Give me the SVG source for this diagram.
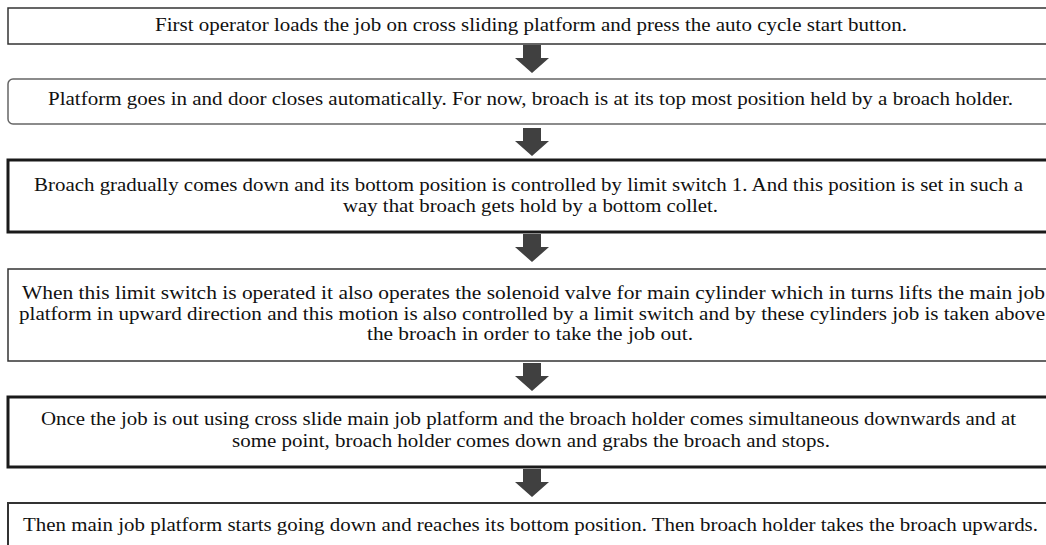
<svg xmlns="http://www.w3.org/2000/svg" width="1046" height="545" viewBox="0 0 1046 545">
<defs>
<style>
.box{fill:#fff;stroke:#333;stroke-width:1.5}
.thick{stroke:#1a1a1a;stroke-width:3}
.rnd{stroke:#666;stroke-width:1.5}
.t{font-size:19px;fill:#111}
.arr{fill:#404040}
</style>
<path id="ar" d="M-9,0 H9 V13 H17 L0,28 L-17,13 H-9 Z"/>
</defs>
<rect width="1046" height="545" fill="#fff"/>
<g id="n1" font-family="Liberation Serif, Times New Roman, serif">
<rect class="box" x="8" y="8" width="1060" height="36"/>
<text class="t" x="155" y="31" textLength="752" lengthAdjust="spacingAndGlyphs">First operator loads the job on cross sliding platform and press the auto cycle start button.</text>
</g>
<g id="n2" font-family="Liberation Serif, Times New Roman, serif">
<rect class="box rnd" x="8" y="79" width="1060" height="45" rx="5"/>
<text class="t" x="48" y="105" textLength="965" lengthAdjust="spacingAndGlyphs">Platform goes in and door closes automatically. For now, broach is at its top most position held by a broach holder.</text>
</g>
<g id="n3" font-family="Liberation Serif, Times New Roman, serif">
<rect class="box thick" x="8" y="160" width="1060" height="72"/>
<text class="t" x="34" y="191" textLength="989" lengthAdjust="spacingAndGlyphs">Broach gradually comes down and its bottom position is controlled by limit switch 1. And this position is set in such a</text>
<text class="t" x="343" y="212" textLength="375" lengthAdjust="spacingAndGlyphs">way that broach gets hold by a bottom collet.</text>
</g>
<g id="n4" font-family="Liberation Serif, Times New Roman, serif">
<rect class="box" x="8" y="269" width="1060" height="92"/>
<text class="t" x="22" y="299" textLength="1023" lengthAdjust="spacingAndGlyphs">When this limit switch is operated it also operates the solenoid valve for main cylinder which in turns lifts the main job</text>
<text class="t" x="19" y="320" textLength="1026" lengthAdjust="spacingAndGlyphs">platform in upward direction and this motion is also controlled by a limit switch and by these cylinders job is taken above</text>
<text class="t" x="367" y="340" textLength="326" lengthAdjust="spacingAndGlyphs">the broach in order to take the job out.</text>
</g>
<g id="n5" font-family="Liberation Serif, Times New Roman, serif">
<rect class="box thick" x="8" y="397" width="1060" height="70"/>
<text class="t" x="41" y="425" textLength="975" lengthAdjust="spacingAndGlyphs">Once the job is out using cross slide main job platform and the broach holder comes simultaneous downwards and at</text>
<text class="t" x="232" y="447" textLength="598" lengthAdjust="spacingAndGlyphs">some point, broach holder comes down and grabs the broach and stops.</text>
</g>
<g id="n6" font-family="Liberation Serif, Times New Roman, serif">
<rect class="box" x="8" y="503" width="1060" height="60" style="stroke-width:2"/>
<text class="t" x="23" y="531" textLength="1015" lengthAdjust="spacingAndGlyphs">Then main job platform starts going down and reaches its bottom position. Then broach holder takes the broach upwards.</text>
</g>
<g id="connectors">
<use href="#ar" class="arr" x="532" y="45"/>
<use href="#ar" class="arr" x="532" y="128"/>
<use href="#ar" class="arr" x="532" y="234"/>
<use href="#ar" class="arr" x="532" y="363"/>
<use href="#ar" class="arr" x="532" y="469"/>
</g>
</svg>
